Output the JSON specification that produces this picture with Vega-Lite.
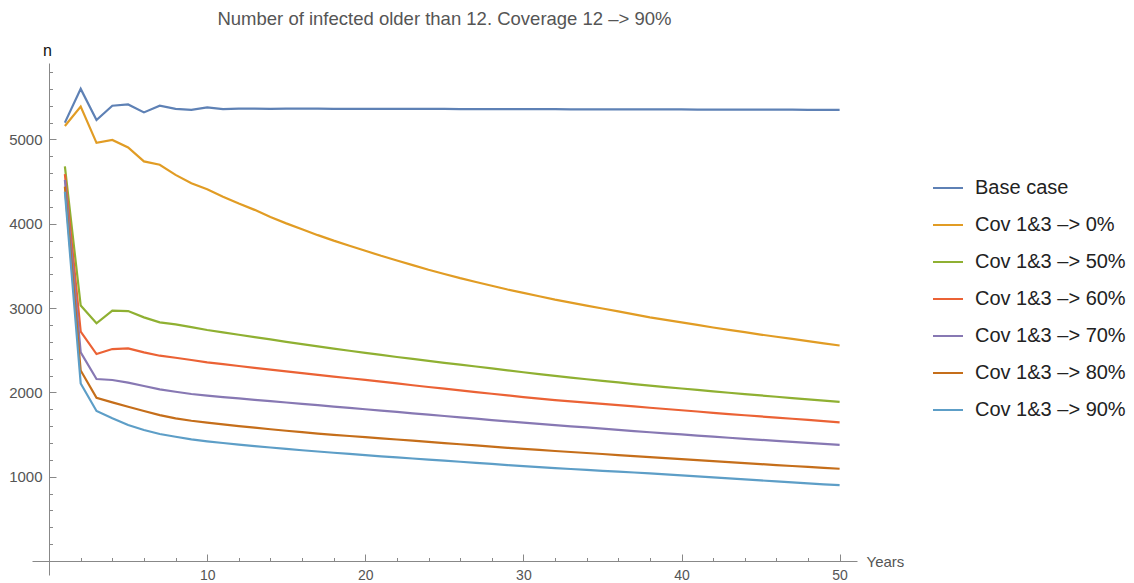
{
  "$schema": "https://vega.github.io/schema/vega-lite/v6.json",
  "width": 825,
  "height": 512,
  "autosize": "none",
  "padding": {"left": 32, "top": 63, "right": 277, "bottom": 8},
  "background": "white",
  "config": {"view": {"stroke": null}, "font": "Liberation Sans"},
  "title": {"text": "Number of infected older than 12. Coverage 12 –> 90%", "fontSize": 18.5, "fontWeight": "normal", "color": "#555555", "font": "Liberation Sans", "anchor": "middle", "frame": "group", "offset": 14},
  "data": {"values": [
    {"Years": 1, "Base case": 5200, "Cov 1&3 –> 0%": 5160, "Cov 1&3 –> 50%": 4680, "Cov 1&3 –> 60%": 4590, "Cov 1&3 –> 70%": 4520, "Cov 1&3 –> 80%": 4440, "Cov 1&3 –> 90%": 4380},
    {"Years": 2, "Base case": 5600, "Cov 1&3 –> 0%": 5390, "Cov 1&3 –> 50%": 3030, "Cov 1&3 –> 60%": 2720, "Cov 1&3 –> 70%": 2475, "Cov 1&3 –> 80%": 2260, "Cov 1&3 –> 90%": 2105},
    {"Years": 3, "Base case": 5230, "Cov 1&3 –> 0%": 4960, "Cov 1&3 –> 50%": 2820, "Cov 1&3 –> 60%": 2455, "Cov 1&3 –> 70%": 2159, "Cov 1&3 –> 80%": 1937, "Cov 1&3 –> 90%": 1779},
    {"Years": 4, "Base case": 5400, "Cov 1&3 –> 0%": 4995, "Cov 1&3 –> 50%": 2970, "Cov 1&3 –> 60%": 2514, "Cov 1&3 –> 70%": 2147, "Cov 1&3 –> 80%": 1882, "Cov 1&3 –> 90%": 1692},
    {"Years": 5, "Base case": 5416, "Cov 1&3 –> 0%": 4905, "Cov 1&3 –> 50%": 2965, "Cov 1&3 –> 60%": 2522, "Cov 1&3 –> 70%": 2115, "Cov 1&3 –> 80%": 1830, "Cov 1&3 –> 90%": 1613},
    {"Years": 6, "Base case": 5321, "Cov 1&3 –> 0%": 4740, "Cov 1&3 –> 50%": 2890, "Cov 1&3 –> 60%": 2475, "Cov 1&3 –> 70%": 2076, "Cov 1&3 –> 80%": 1779, "Cov 1&3 –> 90%": 1554},
    {"Years": 7, "Base case": 5400, "Cov 1&3 –> 0%": 4700, "Cov 1&3 –> 50%": 2830, "Cov 1&3 –> 60%": 2435, "Cov 1&3 –> 70%": 2036, "Cov 1&3 –> 80%": 1731, "Cov 1&3 –> 90%": 1506},
    {"Years": 8, "Base case": 5362, "Cov 1&3 –> 0%": 4580, "Cov 1&3 –> 50%": 2807, "Cov 1&3 –> 60%": 2411, "Cov 1&3 –> 70%": 2008, "Cov 1&3 –> 80%": 1692, "Cov 1&3 –> 90%": 1474},
    {"Years": 9, "Base case": 5352, "Cov 1&3 –> 0%": 4480, "Cov 1&3 –> 50%": 2775, "Cov 1&3 –> 60%": 2384, "Cov 1&3 –> 70%": 1981, "Cov 1&3 –> 80%": 1664, "Cov 1&3 –> 90%": 1443},
    {"Years": 10, "Base case": 5380, "Cov 1&3 –> 0%": 4410, "Cov 1&3 –> 50%": 2740, "Cov 1&3 –> 60%": 2357, "Cov 1&3 –> 70%": 1961, "Cov 1&3 –> 80%": 1641, "Cov 1&3 –> 90%": 1420},
    {"Years": 11, "Base case": 5360, "Cov 1&3 –> 0%": 4320, "Cov 1&3 –> 50%": 2712, "Cov 1&3 –> 60%": 2335, "Cov 1&3 –> 70%": 1944, "Cov 1&3 –> 80%": 1620, "Cov 1&3 –> 90%": 1400},
    {"Years": 12, "Base case": 5366, "Cov 1&3 –> 0%": 4240, "Cov 1&3 –> 50%": 2684, "Cov 1&3 –> 60%": 2313, "Cov 1&3 –> 70%": 1928, "Cov 1&3 –> 80%": 1600, "Cov 1&3 –> 90%": 1381},
    {"Years": 13, "Base case": 5367, "Cov 1&3 –> 0%": 4165, "Cov 1&3 –> 50%": 2656, "Cov 1&3 –> 60%": 2291, "Cov 1&3 –> 70%": 1912, "Cov 1&3 –> 80%": 1581, "Cov 1&3 –> 90%": 1363},
    {"Years": 14, "Base case": 5364, "Cov 1&3 –> 0%": 4080, "Cov 1&3 –> 50%": 2628, "Cov 1&3 –> 60%": 2270, "Cov 1&3 –> 70%": 1896, "Cov 1&3 –> 80%": 1563, "Cov 1&3 –> 90%": 1346},
    {"Years": 15, "Base case": 5366, "Cov 1&3 –> 0%": 4005, "Cov 1&3 –> 50%": 2600, "Cov 1&3 –> 60%": 2249, "Cov 1&3 –> 70%": 1880, "Cov 1&3 –> 80%": 1545, "Cov 1&3 –> 90%": 1330},
    {"Years": 16, "Base case": 5365, "Cov 1&3 –> 0%": 3935, "Cov 1&3 –> 50%": 2573, "Cov 1&3 –> 60%": 2228, "Cov 1&3 –> 70%": 1864, "Cov 1&3 –> 80%": 1528, "Cov 1&3 –> 90%": 1314},
    {"Years": 17, "Base case": 5365, "Cov 1&3 –> 0%": 3865, "Cov 1&3 –> 50%": 2546, "Cov 1&3 –> 60%": 2208, "Cov 1&3 –> 70%": 1848, "Cov 1&3 –> 80%": 1512, "Cov 1&3 –> 90%": 1299},
    {"Years": 18, "Base case": 5364, "Cov 1&3 –> 0%": 3800, "Cov 1&3 –> 50%": 2520, "Cov 1&3 –> 60%": 2188, "Cov 1&3 –> 70%": 1832, "Cov 1&3 –> 80%": 1497, "Cov 1&3 –> 90%": 1284},
    {"Years": 19, "Base case": 5364, "Cov 1&3 –> 0%": 3740, "Cov 1&3 –> 50%": 2494, "Cov 1&3 –> 60%": 2168, "Cov 1&3 –> 70%": 1816, "Cov 1&3 –> 80%": 1483, "Cov 1&3 –> 90%": 1270},
    {"Years": 20, "Base case": 5364, "Cov 1&3 –> 0%": 3680, "Cov 1&3 –> 50%": 2468, "Cov 1&3 –> 60%": 2148, "Cov 1&3 –> 70%": 1800, "Cov 1&3 –> 80%": 1469, "Cov 1&3 –> 90%": 1256},
    {"Years": 21, "Base case": 5363, "Cov 1&3 –> 0%": 3620, "Cov 1&3 –> 50%": 2444, "Cov 1&3 –> 60%": 2127, "Cov 1&3 –> 70%": 1784, "Cov 1&3 –> 80%": 1455, "Cov 1&3 –> 90%": 1242},
    {"Years": 22, "Base case": 5363, "Cov 1&3 –> 0%": 3565, "Cov 1&3 –> 50%": 2420, "Cov 1&3 –> 60%": 2106, "Cov 1&3 –> 70%": 1768, "Cov 1&3 –> 80%": 1441, "Cov 1&3 –> 90%": 1229},
    {"Years": 23, "Base case": 5362, "Cov 1&3 –> 0%": 3510, "Cov 1&3 –> 50%": 2397, "Cov 1&3 –> 60%": 2085, "Cov 1&3 –> 70%": 1752, "Cov 1&3 –> 80%": 1427, "Cov 1&3 –> 90%": 1216},
    {"Years": 24, "Base case": 5362, "Cov 1&3 –> 0%": 3455, "Cov 1&3 –> 50%": 2374, "Cov 1&3 –> 60%": 2064, "Cov 1&3 –> 70%": 1736, "Cov 1&3 –> 80%": 1413, "Cov 1&3 –> 90%": 1203},
    {"Years": 25, "Base case": 5362, "Cov 1&3 –> 0%": 3405, "Cov 1&3 –> 50%": 2351, "Cov 1&3 –> 60%": 2044, "Cov 1&3 –> 70%": 1720, "Cov 1&3 –> 80%": 1399, "Cov 1&3 –> 90%": 1190},
    {"Years": 26, "Base case": 5361, "Cov 1&3 –> 0%": 3355, "Cov 1&3 –> 50%": 2329, "Cov 1&3 –> 60%": 2024, "Cov 1&3 –> 70%": 1704, "Cov 1&3 –> 80%": 1385, "Cov 1&3 –> 90%": 1177},
    {"Years": 27, "Base case": 5361, "Cov 1&3 –> 0%": 3310, "Cov 1&3 –> 50%": 2307, "Cov 1&3 –> 60%": 2004, "Cov 1&3 –> 70%": 1688, "Cov 1&3 –> 80%": 1371, "Cov 1&3 –> 90%": 1164},
    {"Years": 28, "Base case": 5360, "Cov 1&3 –> 0%": 3265, "Cov 1&3 –> 50%": 2284, "Cov 1&3 –> 60%": 1984, "Cov 1&3 –> 70%": 1672, "Cov 1&3 –> 80%": 1357, "Cov 1&3 –> 90%": 1151},
    {"Years": 29, "Base case": 5360, "Cov 1&3 –> 0%": 3220, "Cov 1&3 –> 50%": 2262, "Cov 1&3 –> 60%": 1964, "Cov 1&3 –> 70%": 1656, "Cov 1&3 –> 80%": 1343, "Cov 1&3 –> 90%": 1138},
    {"Years": 30, "Base case": 5360, "Cov 1&3 –> 0%": 3180, "Cov 1&3 –> 50%": 2239, "Cov 1&3 –> 60%": 1944, "Cov 1&3 –> 70%": 1641, "Cov 1&3 –> 80%": 1330, "Cov 1&3 –> 90%": 1125},
    {"Years": 31, "Base case": 5359, "Cov 1&3 –> 0%": 3140, "Cov 1&3 –> 50%": 2217, "Cov 1&3 –> 60%": 1925, "Cov 1&3 –> 70%": 1626, "Cov 1&3 –> 80%": 1317, "Cov 1&3 –> 90%": 1113},
    {"Years": 32, "Base case": 5359, "Cov 1&3 –> 0%": 3100, "Cov 1&3 –> 50%": 2196, "Cov 1&3 –> 60%": 1909, "Cov 1&3 –> 70%": 1612, "Cov 1&3 –> 80%": 1305, "Cov 1&3 –> 90%": 1102},
    {"Years": 33, "Base case": 5358, "Cov 1&3 –> 0%": 3065, "Cov 1&3 –> 50%": 2176, "Cov 1&3 –> 60%": 1893, "Cov 1&3 –> 70%": 1598, "Cov 1&3 –> 80%": 1293, "Cov 1&3 –> 90%": 1091},
    {"Years": 34, "Base case": 5358, "Cov 1&3 –> 0%": 3030, "Cov 1&3 –> 50%": 2156, "Cov 1&3 –> 60%": 1878, "Cov 1&3 –> 70%": 1584, "Cov 1&3 –> 80%": 1281, "Cov 1&3 –> 90%": 1080},
    {"Years": 35, "Base case": 5358, "Cov 1&3 –> 0%": 2995, "Cov 1&3 –> 50%": 2137, "Cov 1&3 –> 60%": 1863, "Cov 1&3 –> 70%": 1570, "Cov 1&3 –> 80%": 1269, "Cov 1&3 –> 90%": 1070},
    {"Years": 36, "Base case": 5357, "Cov 1&3 –> 0%": 2960, "Cov 1&3 –> 50%": 2118, "Cov 1&3 –> 60%": 1848, "Cov 1&3 –> 70%": 1556, "Cov 1&3 –> 80%": 1257, "Cov 1&3 –> 90%": 1060},
    {"Years": 37, "Base case": 5357, "Cov 1&3 –> 0%": 2925, "Cov 1&3 –> 50%": 2099, "Cov 1&3 –> 60%": 1833, "Cov 1&3 –> 70%": 1541, "Cov 1&3 –> 80%": 1245, "Cov 1&3 –> 90%": 1050},
    {"Years": 38, "Base case": 5356, "Cov 1&3 –> 0%": 2890, "Cov 1&3 –> 50%": 2080, "Cov 1&3 –> 60%": 1818, "Cov 1&3 –> 70%": 1527, "Cov 1&3 –> 80%": 1233, "Cov 1&3 –> 90%": 1040},
    {"Years": 39, "Base case": 5356, "Cov 1&3 –> 0%": 2860, "Cov 1&3 –> 50%": 2063, "Cov 1&3 –> 60%": 1803, "Cov 1&3 –> 70%": 1514, "Cov 1&3 –> 80%": 1221, "Cov 1&3 –> 90%": 1028},
    {"Years": 40, "Base case": 5356, "Cov 1&3 –> 0%": 2830, "Cov 1&3 –> 50%": 2046, "Cov 1&3 –> 60%": 1788, "Cov 1&3 –> 70%": 1501, "Cov 1&3 –> 80%": 1209, "Cov 1&3 –> 90%": 1016},
    {"Years": 41, "Base case": 5355, "Cov 1&3 –> 0%": 2800, "Cov 1&3 –> 50%": 2029, "Cov 1&3 –> 60%": 1773, "Cov 1&3 –> 70%": 1488, "Cov 1&3 –> 80%": 1197, "Cov 1&3 –> 90%": 1004},
    {"Years": 42, "Base case": 5355, "Cov 1&3 –> 0%": 2770, "Cov 1&3 –> 50%": 2012, "Cov 1&3 –> 60%": 1758, "Cov 1&3 –> 70%": 1475, "Cov 1&3 –> 80%": 1185, "Cov 1&3 –> 90%": 992},
    {"Years": 43, "Base case": 5354, "Cov 1&3 –> 0%": 2742, "Cov 1&3 –> 50%": 1996, "Cov 1&3 –> 60%": 1743, "Cov 1&3 –> 70%": 1462, "Cov 1&3 –> 80%": 1173, "Cov 1&3 –> 90%": 980},
    {"Years": 44, "Base case": 5354, "Cov 1&3 –> 0%": 2714, "Cov 1&3 –> 50%": 1980, "Cov 1&3 –> 60%": 1729, "Cov 1&3 –> 70%": 1449, "Cov 1&3 –> 80%": 1161, "Cov 1&3 –> 90%": 968},
    {"Years": 45, "Base case": 5354, "Cov 1&3 –> 0%": 2686, "Cov 1&3 –> 50%": 1964, "Cov 1&3 –> 60%": 1715, "Cov 1&3 –> 70%": 1437, "Cov 1&3 –> 80%": 1149, "Cov 1&3 –> 90%": 956},
    {"Years": 46, "Base case": 5353, "Cov 1&3 –> 0%": 2660, "Cov 1&3 –> 50%": 1948, "Cov 1&3 –> 60%": 1701, "Cov 1&3 –> 70%": 1425, "Cov 1&3 –> 80%": 1138, "Cov 1&3 –> 90%": 944},
    {"Years": 47, "Base case": 5353, "Cov 1&3 –> 0%": 2634, "Cov 1&3 –> 50%": 1932, "Cov 1&3 –> 60%": 1687, "Cov 1&3 –> 70%": 1413, "Cov 1&3 –> 80%": 1127, "Cov 1&3 –> 90%": 932},
    {"Years": 48, "Base case": 5352, "Cov 1&3 –> 0%": 2608, "Cov 1&3 –> 50%": 1917, "Cov 1&3 –> 60%": 1673, "Cov 1&3 –> 70%": 1401, "Cov 1&3 –> 80%": 1116, "Cov 1&3 –> 90%": 921},
    {"Years": 49, "Base case": 5352, "Cov 1&3 –> 0%": 2582, "Cov 1&3 –> 50%": 1902, "Cov 1&3 –> 60%": 1659, "Cov 1&3 –> 70%": 1389, "Cov 1&3 –> 80%": 1105, "Cov 1&3 –> 90%": 910},
    {"Years": 50, "Base case": 5352, "Cov 1&3 –> 0%": 2556, "Cov 1&3 –> 50%": 1887, "Cov 1&3 –> 60%": 1645, "Cov 1&3 –> 70%": 1377, "Cov 1&3 –> 80%": 1094, "Cov 1&3 –> 90%": 900}
  ]},
  "transform": [
    {"fold": ["Base case", "Cov 1&3 –> 0%", "Cov 1&3 –> 50%", "Cov 1&3 –> 60%", "Cov 1&3 –> 70%", "Cov 1&3 –> 80%", "Cov 1&3 –> 90%"], "as": ["series", "n"]}
  ],
  "layer": [
    {
      "mark": {"type": "line", "strokeWidth": 2.2},
      "encoding": {
        "x": {"field": "Years", "type": "quantitative",
          "scale": {"domain": [-1.08, 51.1], "nice": false, "zero": false},
          "axis": {"orient": "bottom", "offset": -14, "values": [10, 20, 30, 40, 50], "grid": false,
            "tickSize": -7, "tickColor": "#888888", "domainColor": "#888888",
            "labelFontSize": 14, "labelColor": "#555555", "labelPadding": 14, "labelFont": "Liberation Sans",
            "title": "Years", "titleFontSize": 15, "titleFontWeight": "normal", "titleColor": "#555555", "titleFont": "Liberation Sans",
            "titleX": 834, "titleY": 0, "titleAlign": "left", "titleBaseline": "middle", "titleAnchor": "start"}},
        "y": {"field": "n", "type": "quantitative",
          "scale": {"domain": [-166, 5907], "nice": false, "zero": false},
          "axis": {"orient": "left", "offset": -17, "values": [1000, 2000, 3000, 4000, 5000], "format": "d", "grid": false,
            "tickSize": -7, "tickColor": "#888888", "domainColor": "#888888",
            "labelFontSize": 15, "labelColor": "#555555", "labelPadding": 14, "labelFont": "Liberation Sans",
            "title": "n", "titleAngle": 0, "titleFontSize": 16, "titleFontWeight": "normal", "titleColor": "#111111", "titleFont": "Liberation Sans",
            "titleX": -2, "titleY": -8, "titleAlign": "center", "titleBaseline": "alphabetic"}},
        "color": {"field": "series", "type": "nominal",
          "scale": {"domain": ["Base case", "Cov 1&3 –> 0%", "Cov 1&3 –> 50%", "Cov 1&3 –> 60%", "Cov 1&3 –> 70%", "Cov 1&3 –> 80%", "Cov 1&3 –> 90%"],
                    "range": ["#5E81B5", "#E19C24", "#8FB032", "#EB6235", "#8778B3", "#C56E1A", "#5D9EC7"]},
          "legend": {"orient": "none", "legendX": 900, "legendY": 109, "title": null, "padding": 0,
            "symbolType": "stroke", "symbolSize": 900, "symbolStrokeWidth": 2,
            "labelFontSize": 20, "labelFont": "Liberation Sans", "labelColor": "#222222", "labelOffset": 11, "rowPadding": 11}}
      }
    },
    {
      "mark": {"type": "line", "opacity": 0},
      "encoding": {
        "x": {"field": "Years", "type": "quantitative",
          "axis": {"orient": "bottom", "offset": -14, "values": [2, 4, 6, 8, 12, 14, 16, 18, 22, 24, 26, 28, 32, 34, 36, 38, 42, 44, 46, 48],
            "grid": false, "domain": false, "labels": false, "title": null, "tickSize": -3.5, "tickColor": "#888888"}},
        "y": {"field": "n", "type": "quantitative",
          "axis": {"orient": "left", "offset": -17, "values": [200, 400, 600, 800, 1200, 1400, 1600, 1800, 2200, 2400, 2600, 2800, 3200, 3400, 3600, 3800, 4200, 4400, 4600, 4800, 5200, 5400, 5600, 5800],
            "grid": false, "domain": false, "labels": false, "title": null, "tickSize": -3.5, "tickColor": "#888888"}},
        "detail": {"field": "series", "type": "nominal"}
      }
    }
  ],
  "resolve": {"axis": {"x": "independent", "y": "independent"}}
}
